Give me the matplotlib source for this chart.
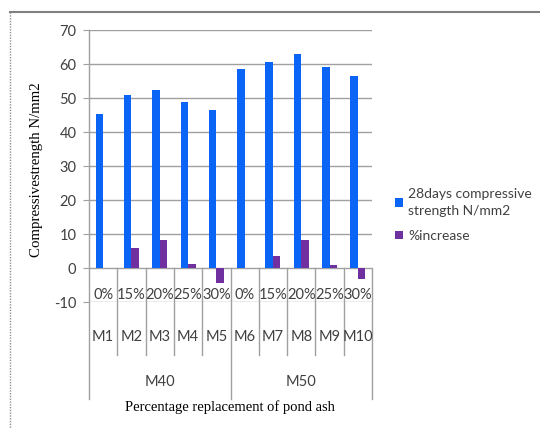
import matplotlib
matplotlib.use("Agg")
import matplotlib.pyplot as plt
import matplotlib.transforms as mtrans
from matplotlib.lines import Line2D
import numpy as np

mixes = ["M1", "M2", "M3", "M4", "M5", "M6", "M7", "M8", "M9", "M10"]
percent = ["0%", "15%", "20%", "25%", "30%", "0%", "15%", "20%", "25%", "30%"]
grades = ["M40", "M50"]
strength = [45.2, 51.0, 52.4, 48.9, 46.4, 58.5, 60.5, 63.0, 59.0, 56.6]
increase = [0.0, 5.8, 8.2, 1.3, -4.3, 0.0, 3.5, 8.2, 0.8, -3.3]
series_names = ["28days compressive\nstrength N/mm2", "%increase"]
yticks = [-10, 0, 10, 20, 30, 40, 50, 60, 70]

W, H = 540, 429
fig = plt.figure(figsize=(W / 100, H / 100), dpi=100)

def fx(px):
    return px / W

def fy(py):
    return 1 - py / H

ax_left, ax_right, ax_top, ax_bot = 89, 372, 30, 302
ax = fig.add_axes([fx(ax_left), fy(ax_bot), fx(ax_right - ax_left), (ax_bot - ax_top) / H])

blue = "#0A64F5"
purple = "#7030A0"
grid_c = "#A0A0A0"
txt_c = "#404040"
sans = "Lato"
serif = "Liberation Serif"
fs = 10.5

n = len(mixes)
x = np.arange(n) + 0.5
bw = 0.265
ax.bar(x - bw / 2, strength, width=bw, color=blue, zorder=3, label=series_names[0])
ax.bar(x + bw / 2, increase, width=bw, color=purple, zorder=3, label=series_names[1])

ax.set_xlim(0, n)
ax.set_ylim(-10, 70)
ax.set_yticks(yticks)
ax.set_yticklabels([str(v) for v in yticks], fontsize=fs, color=txt_c, fontfamily=sans)
ax.tick_params(axis="y", length=4, color=grid_c, pad=5)
ax.set_xticks([])
for yv in yticks:
    ax.axhline(yv, color=grid_c, lw=1, zorder=1)
for s in ["top", "right", "bottom", "left"]:
    ax.spines[s].set_visible(False)

tb = mtrans.blended_transform_factory(ax.transData, fig.transFigure)
y0 = fy(268)
y_row2 = fy(355)
y_row3 = fy(399)

fig.add_artist(Line2D([fx(ax_left), fx(ax_left)], [fy(ax_top), y_row3], color=grid_c, lw=1))
for i in range(1, n + 1):
    yb = y_row3 if i in (5, 10) else y_row2
    fig.add_artist(Line2D([i, i], [y0, yb], transform=tb, color=grid_c, lw=1))

for i in range(n):
    fig.text(x[i], fy(295), percent[i], transform=tb, ha="center", va="center",
             fontsize=fs, color=txt_c, fontfamily=sans)
    fig.text(x[i], fy(337), mixes[i], transform=tb, ha="center", va="center",
             fontsize=fs, color=txt_c, fontfamily=sans)
for g, gname in enumerate(grades):
    fig.text(g * 5 + 2.5, fy(382), gname, transform=tb, ha="center", va="center",
             fontsize=fs, color=txt_c, fontfamily=sans)

fig.text(fx(230), fy(407), "Percentage replacement of pond ash", ha="center", va="center",
         fontsize=10.5, color="black", fontfamily=serif)
fig.text(fx(37), fy(170), "Compressivestrength N/mm2", ha="center", va="center",
         rotation=90, fontsize=10.7, color="black", fontfamily=serif)

leg = fig.legend(loc="upper left", bbox_to_anchor=(fx(388), fy(181)), frameon=False,
                 handlelength=0.6, handleheight=0.6, handletextpad=0.35,
                 labelspacing=0.9, borderpad=0, prop={"family": sans, "size": 10})
for t in leg.get_texts():
    t.set_color(txt_c)
    t.set_linespacing(1.55)

fig.add_artist(Line2D([fx(10), 1], [fy(11.5), fy(11.5)], color="#808080", lw=1.5))
fig.add_artist(Line2D([fx(10), fx(10)], [fy(12), 0], color="#909090", lw=1, ls=(0, (1, 1))))

fig.savefig("out.png", dpi=100)
